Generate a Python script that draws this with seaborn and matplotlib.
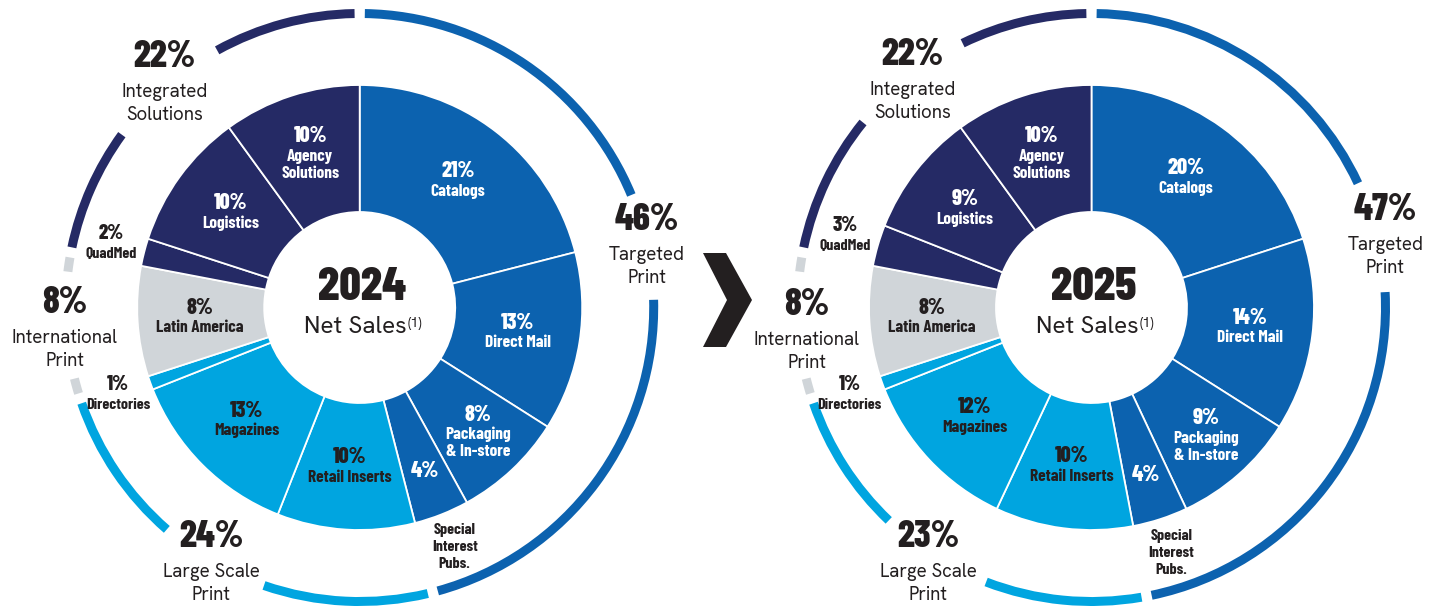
import numpy as np
import matplotlib
matplotlib.use("Agg")
import matplotlib.pyplot as plt
import seaborn as sns
from matplotlib.patches import Polygon

# ---------------- data ----------------
years = ["2024", "2025"]
segments = ["Catalogs", "Direct Mail", "Packaging\n& In-store", "Special\nInterest\nPubs.",
            "Retail Inserts", "Magazines", "Directories", "Latin America",
            "QuadMed", "Logistics", "Agency\nSolutions"]
segment_group = [0, 0, 0, 0, 1, 1, 1, 2, 3, 3, 3]
share_2024 = [21, 13, 8, 4, 10, 13, 1, 8, 2, 10, 10]
share_2025 = [20, 14, 9, 4, 10, 12, 1, 8, 3, 9, 10]
groups = ["Targeted\nPrint", "Large Scale\nPrint", "International\nPrint", "Integrated\nSolutions"]
group_2024 = [46, 24, 8, 22]
group_2025 = [47, 23, 8, 22]

# ---------------- style / layout ----------------
sns.set_theme(style="white")
COND = ["Barlow Condensed", "DejaVu Sans"]
REG = ["Hanken Grotesk", "DejaVu Sans"]
plt.rcParams["font.family"] = REG

palette = sns.color_palette(["#0c62af", "#00a5e0", "#d0d5d9", "#252a65"])
DARK = "#231f20"

W, H = 1439, 606
fig = plt.figure(figsize=(W / 100, H / 100), dpi=100)
ax = fig.add_axes([0, 0, 1, 1])

centers = [(359.7, H - 307.5), (1091.5, H - 307.5)]
R_OUT, R_IN = 222.5, 95.5
ARC_R, ARC_W = 298.5, 9
SEP = 2.0  # degrees between group arcs
gap_center = [[78.0, 210.0, 266.5, 318.5], [76.0, 212.3, 266.5, 321.5]]
gap_width = [[21.0, 22.0, 21.0, 25.0], [22.0, 22.6, 21.0, 25.0]]
glabel_ang = [[78.3, 210.0, 265.4, 318.8], [76.7, 212.4, 264.9, 321.5]]
glabel_r = [[293, 297, 296, 296], [302, 305, 286, 287]]

outside_full = {"Directories", "QuadMed"}
special_name = "Special\nInterest\nPubs."
label_r = {"Packaging\n& In-store": 173, special_name: 176}

F_GPCT, F_GNAME = 27, 13.5
F_PCT, F_NAME = 16, 12.5
F_OPCT, F_ONAME = 15, 11.5
F_YEAR, F_NET, F_SUP = 34, 17.5, 10.5
W_PCT, W_NAME = 800, 700


def polar(c, r, deg):
    t = np.deg2rad(deg)
    return c[0] + r * np.sin(t), c[1] + r * np.cos(t)


def txt(x, y, s, size, family, color=DARK, weight="normal", **kw):
    ax.text(x, y, s, fontsize=size, family=family, color=color, weight=weight,
            ha=kw.pop("ha", "center"), va=kw.pop("va", "center"), **kw)


for k, (year, shares, gvals) in enumerate(zip(years, [share_2024, share_2025],
                                               [group_2024, group_2025])):
    c = centers[k]
    seg_colors = [palette[g] for g in segment_group]
    ax.pie(shares, colors=seg_colors, startangle=90, counterclock=False,
           radius=R_OUT, center=c,
           wedgeprops=dict(width=R_OUT - R_IN, edgecolor="white", linewidth=1.3))

    # outer group ring, split by label gaps
    bounds = np.concatenate([[0], np.cumsum(gvals)]) * 3.6
    pieces, cols = [], []
    pos = 0.0
    for g in range(len(gvals)):
        a0, a1 = bounds[g] + SEP / 2, bounds[g + 1] - SEP / 2
        l0 = gap_center[k][g] - gap_width[k][g] / 2
        l1 = gap_center[k][g] + gap_width[k][g] / 2
        for s0, s1 in [(a0, l0), (l1, a1)]:
            pieces.append(s0 - pos); cols.append("none")
            pieces.append(s1 - s0); cols.append(palette[g])
            pos = s1
    pieces.append(360 - pos); cols.append("none")
    ax.pie(pieces, colors=cols, startangle=90, counterclock=False,
           radius=ARC_R, center=c, wedgeprops=dict(width=ARC_W, linewidth=0))

    # segment labels
    cum = np.concatenate([[0], np.cumsum(shares)])
    for i, name in enumerate(segments):
        mid = (cum[i] + shares[i] / 2) * 3.6
        g = segment_group[i]
        col = "white" if g in (0, 3) else DARK
        pct = f"{shares[i]}%"
        if name in outside_full:
            x, y = polar(c, 257, mid)
            txt(x, y + 10, pct, F_OPCT, COND, weight=W_PCT)
            txt(x, y - 10, name, F_ONAME, COND, weight=W_NAME)
            continue
        if name == special_name:
            x, y = polar(c, label_r[name], mid)
            txt(x, y, pct, F_PCT, COND, color=col, weight=W_PCT)
            x, y = polar(c, 258, mid)
            for j, line in enumerate(name.split("\n")):
                txt(x, y + 17 - 17 * j, line, F_ONAME, COND, weight=W_NAME)
            continue
        x, y = polar(c, label_r.get(name, 160), mid)
        lines = name.split("\n")
        if len(lines) == 1:
            txt(x, y + 10, pct, F_PCT, COND, color=col, weight=W_PCT)
            txt(x, y - 10, lines[0], F_NAME, COND, color=col, weight=W_NAME)
        else:
            txt(x, y + 19, pct, F_PCT, COND, color=col, weight=W_PCT)
            txt(x, y - 1, lines[0], F_NAME, COND, color=col, weight=W_NAME)
            txt(x, y - 18, lines[1], F_NAME, COND, color=col, weight=W_NAME)

    # group labels
    for g, gname in enumerate(groups):
        x, y = polar(c, glabel_r[k][g], glabel_ang[k][g])
        txt(x, y + 28, f"{gvals[g]}%", F_GPCT, COND, weight=W_PCT)
        l1, l2 = gname.split("\n")
        txt(x, y - 7, l1, F_GNAME, REG)
        txt(x, y - 30, l2, F_GNAME, REG)

    # center text
    txt(c[0] + 2, c[1] + 20.5, year, F_YEAR, COND, weight=W_PCT)
    txt(c[0] + 47, c[1] - 19.5, "Net Sales", F_NET, REG, ha="right")
    txt(c[0] + 48, c[1] - 16, "(1)", F_SUP, REG, ha="left")

# chevron between the charts
chev = [(703, 253), (726, 253), (752, 300), (726, 347), (703, 347), (727, 300)]
ax.add_patch(Polygon([(x, H - y) for x, y in chev], closed=True,
                     facecolor="#231f20", edgecolor="none"))

ax.set_xlim(0, W)
ax.set_ylim(0, H)
ax.set_aspect("equal")
ax.axis("off")
fig.savefig("out.png", dpi=100, facecolor="white")
